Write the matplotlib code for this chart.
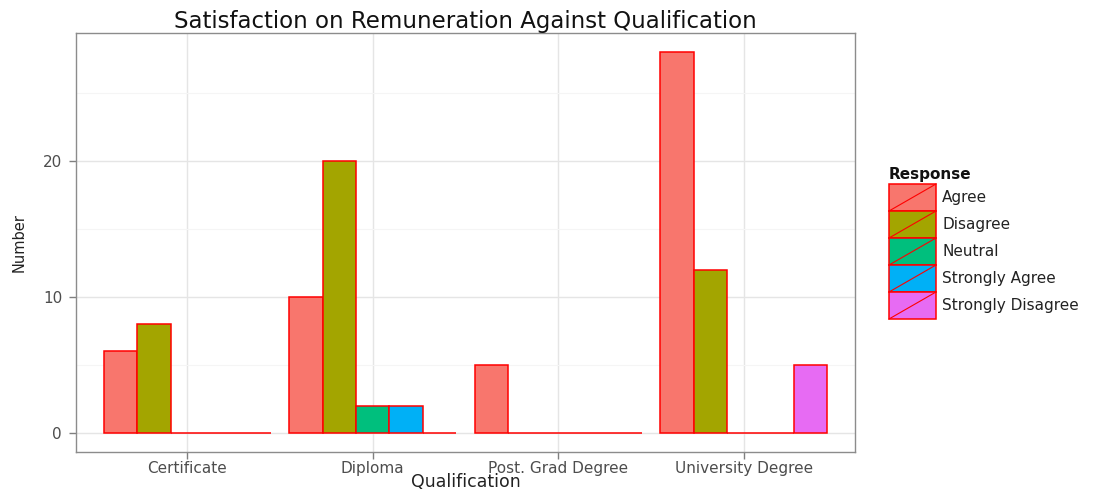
import matplotlib
matplotlib.use("Agg")
import matplotlib.pyplot as plt
import numpy as np
from matplotlib.patches import Rectangle
from matplotlib.lines import Line2D

qualifications = ["Certificate", "Diploma", "Post. Grad Degree", "University Degree"]
responses = ["Agree", "Disagree", "Neutral", "Strongly Agree", "Strongly Disagree"]
agree = [6, 10, 5, 28]
disagree = [8, 20, 0, 12]
neutral = [0, 2, 0, 0]
strongly_agree = [0, 2, 0, 0]
strongly_disagree = [0, 0, 0, 5]
colors = ["#F8766D", "#A3A500", "#00BF7D", "#00B0F6", "#E76BF3"]
y_ticks = [0, 10, 20]

series = [agree, disagree, neutral, strongly_agree, strongly_disagree]

plt.rcParams['font.family'] = ['DejaVu Sans']

fig = plt.figure(figsize=(11.10, 4.92), dpi=100)
ax = fig.add_axes([76/1110, 1-452/492, (855-76)/1110, (452-33)/492])

x = np.arange(1, len(qualifications)+1)
n = len(responses)
w = 0.9 / n
for i, (vals, c) in enumerate(zip(series, colors)):
    ax.bar(x - 0.45 + w*(i+0.5), vals, width=w, color=c, edgecolor="#FF0000",
           linewidth=1.1, zorder=3)

ymax = max(max(s) for s in series)
ax.set_ylim(-0.05*ymax, ymax*1.05)
ax.set_xlim(0.4, 4.6)
ax.set_xticks(x)
ax.set_xticklabels(qualifications)
ax.set_yticks(y_ticks)
ax.set_yticks([5, 15, 25], minor=True)
ax.tick_params(axis='y', which='minor', length=0)
ax.grid(True, which='major', color="#E5E5E5", linewidth=1.0, zorder=0)
ax.grid(True, which='minor', axis='y', color="#F5F5F5", linewidth=0.8, zorder=0)
ax.set_axisbelow(True)
for s in ax.spines.values():
    s.set_color("#8C8C8C")
    s.set_linewidth(1.0)
ax.tick_params(axis='both', which='major', colors="#7F7F7F", length=5, width=1,
               labelsize=11, labelcolor="#4D4D4D")
ax.tick_params(axis='x', which='major', pad=1.5)
ax.tick_params(axis='y', which='major', pad=5)
ax.set_xlabel("Qualification", fontsize=12.5, labelpad=-2, color="#222222")
ax.set_ylabel("Number", fontsize=10.5, labelpad=12, color="#222222")
ax.set_title("Satisfaction on Remuneration Against Qualification", fontsize=16.5,
             pad=3, color="#111111")

# legend drawn manually
lax = fig.add_axes([0, 0, 1, 1], facecolor="none")
lax.set_xlim(0, 1110)
lax.set_ylim(492, 0)
lax.axis("off")
lax.text(889, 174, "Response", fontsize=11, fontweight="bold", va="center", ha="left",
         color="#111111")
key_top = 184
key_h = 27
for i, (lab, c) in enumerate(zip(responses, colors)):
    y0 = key_top + i*key_h
    lax.add_patch(Rectangle((889, y0), 47, key_h, facecolor=c, edgecolor="#FF0000",
                            linewidth=1.1))
    lax.add_line(Line2D([889, 936], [y0+key_h, y0], color="#FF0000", linewidth=0.8))
    lax.text(942, y0 + key_h/2, lab, fontsize=11, va="center", ha="left",
             color="#222222")

fig.savefig("out.png", dpi=100)
